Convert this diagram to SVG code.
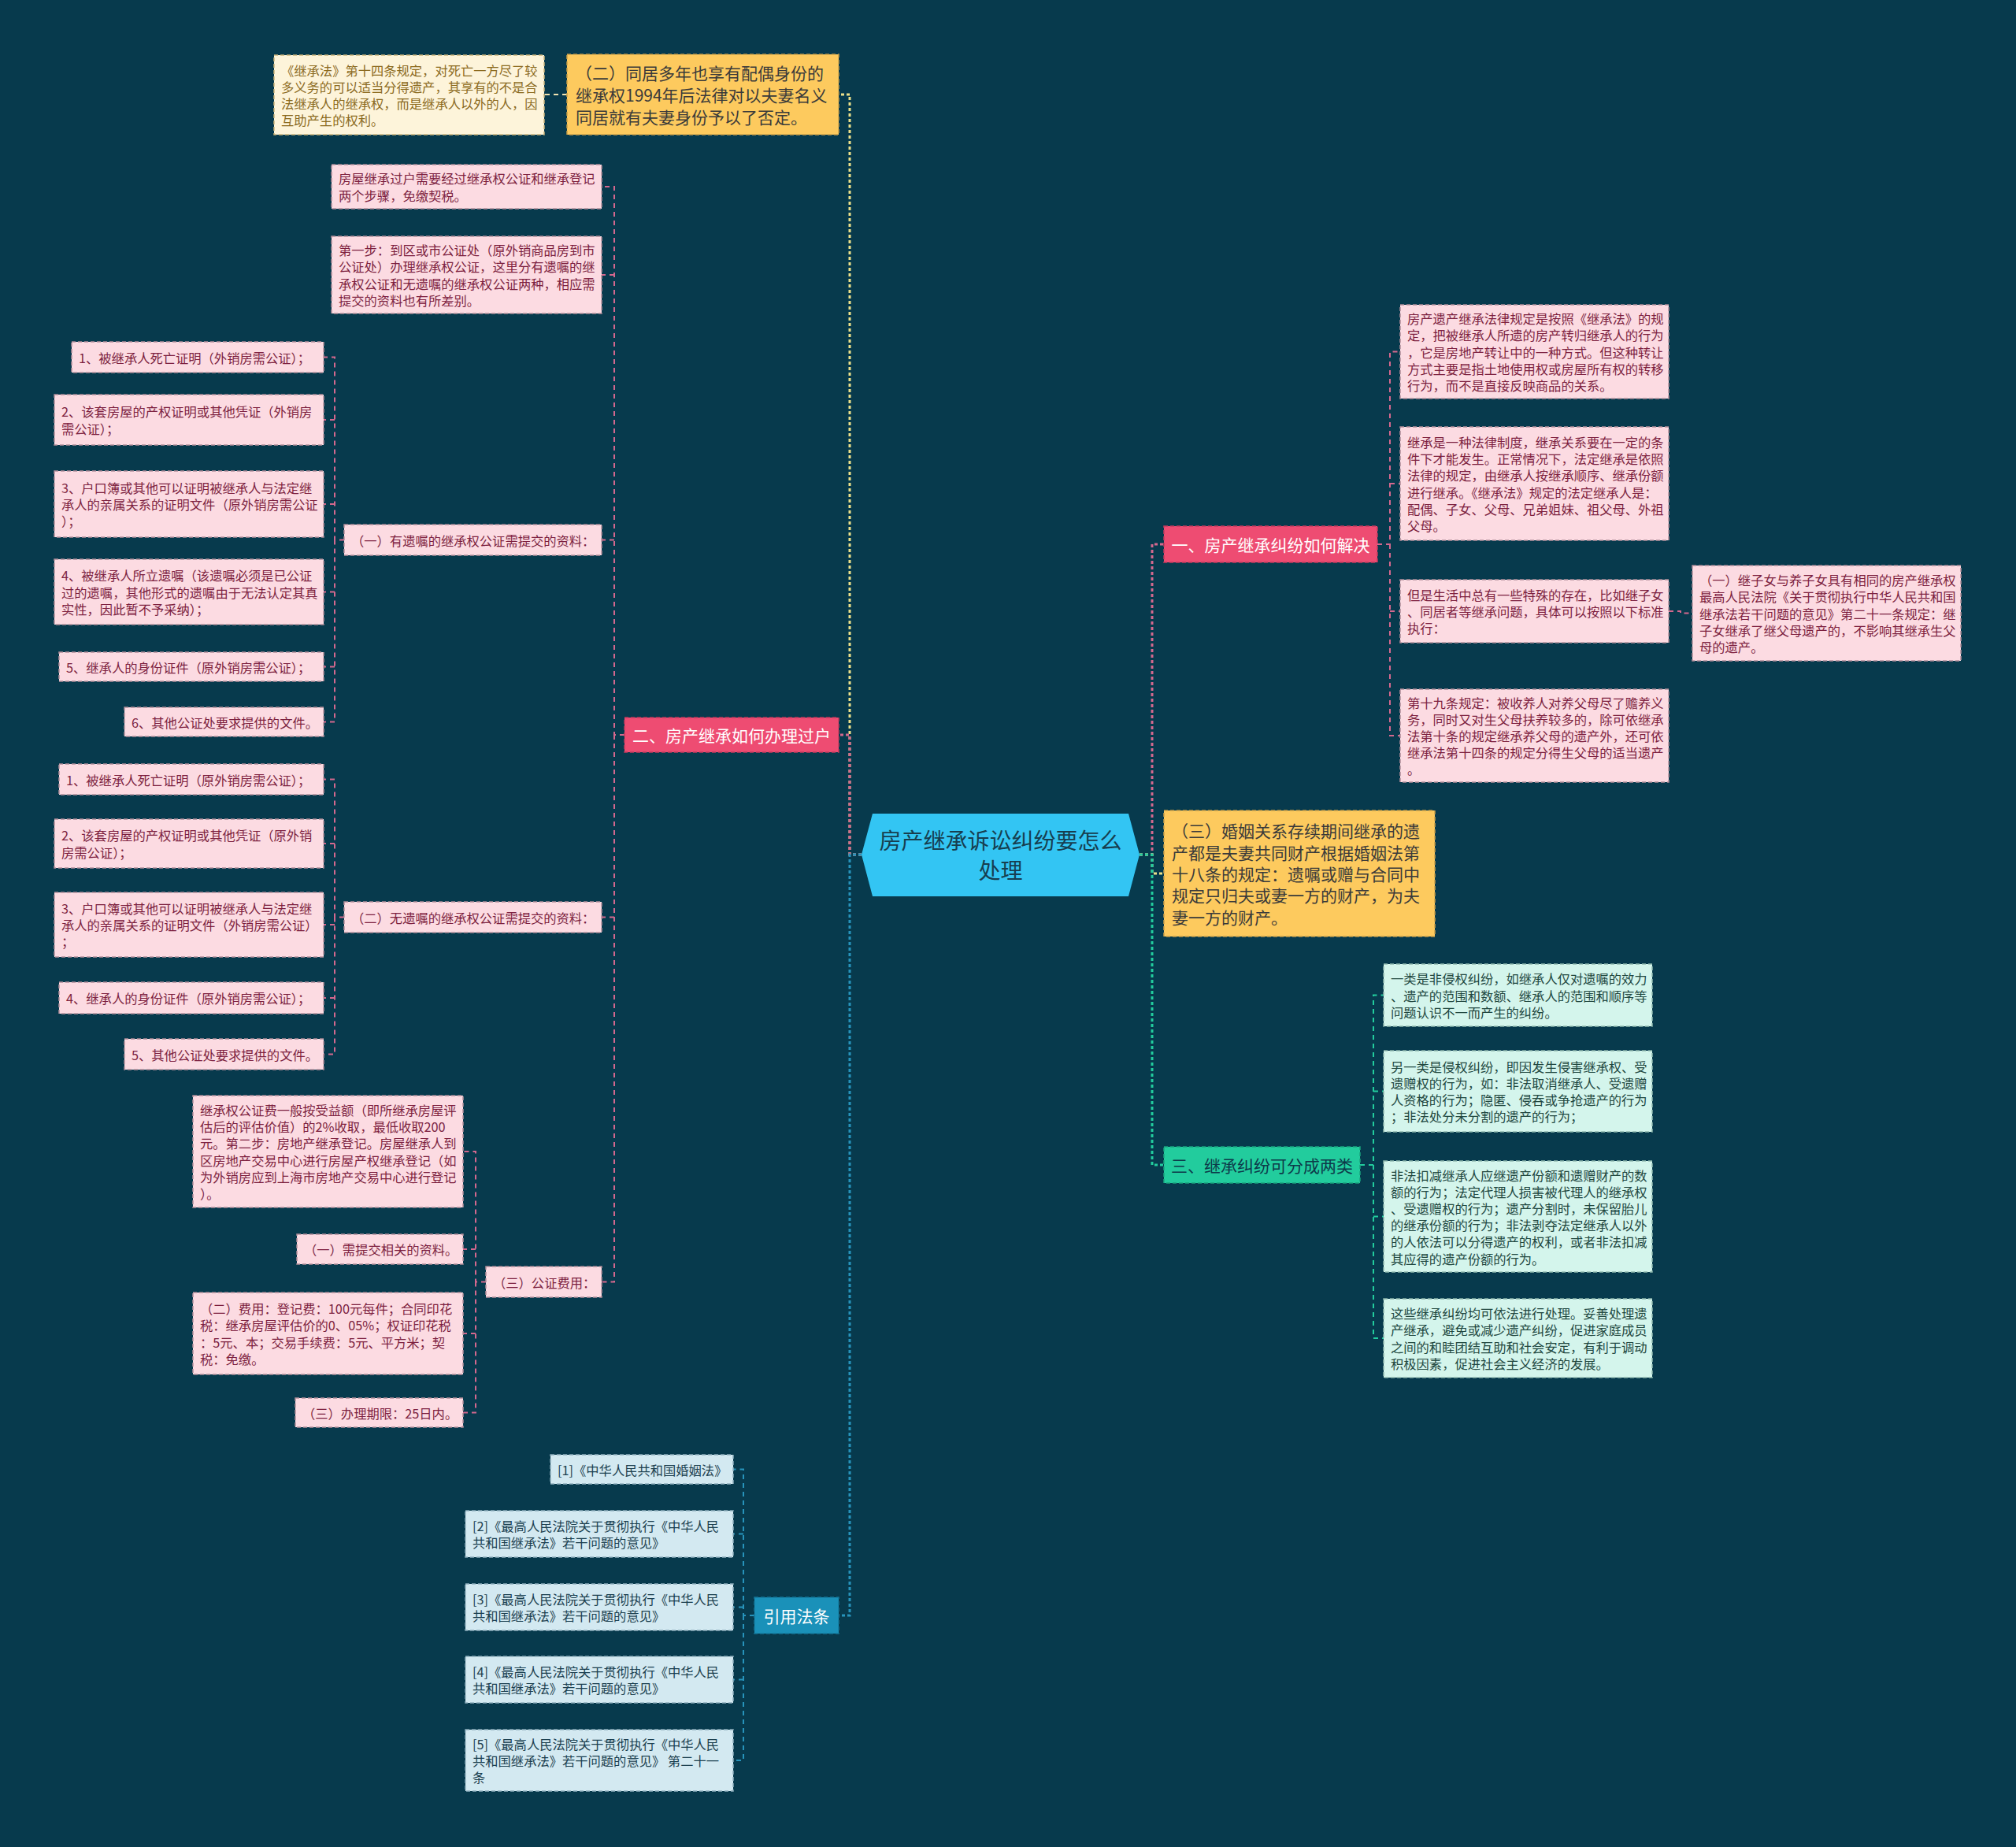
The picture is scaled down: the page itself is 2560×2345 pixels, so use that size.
<svg xmlns="http://www.w3.org/2000/svg" width="2560" height="2345" viewBox="0 0 2560 2345">
<style>
text{font-family:"Noto Sans CJK SC","Liberation Sans",sans-serif;dominant-baseline:central}
.cp{fill:#fcdbe2;stroke:#b18f9b;stroke-width:1.5;stroke-dasharray:5 3}
.tp{fill:#7d1f3f;font-size:16.3px}
.cy{fill:#fdf4da;stroke:#c9b37a;stroke-width:1.5;stroke-dasharray:5 3}
.ty{fill:#8b6a1e;font-size:16.3px}
.cm{fill:#d4f5ec;stroke:#8fb8ad;stroke-width:1.5;stroke-dasharray:5 3}
.tm{fill:#21473f;font-size:16.3px}
.cb{fill:#d3e9f1;stroke:#8eafbd;stroke-width:1.5;stroke-dasharray:5 3}
.tb{fill:#1b3f4f;font-size:16.3px}
.mp{fill:#ee4c72;stroke:#c43a5e;stroke-width:1.5;stroke-dasharray:5 3}
.my{fill:#fdca5e;stroke:#c9a04a;stroke-width:1.5;stroke-dasharray:5 3}
.mg{fill:#22cc9d;stroke:#1aa37d;stroke-width:1.5;stroke-dasharray:5 3}
.mb{fill:#1a91b9;stroke:#14789a;stroke-width:1.5;stroke-dasharray:5 3}
.tw{fill:#ffffff;font-size:21px;text-anchor:middle}
.td{fill:#3a3a3a;font-size:21px}
.lk{fill:none;stroke-width:2;stroke-dasharray:6 5}
.trk{fill:none;stroke-width:3;stroke-dasharray:4 3}
.lp{stroke:#d4688e}.ly{stroke:#ece08a}.lg{stroke:#22cc9d}.lb{stroke:#2793bb}.lc{stroke:#efe2b0}
</style>
<rect width="2560" height="2345" fill="#073a4d"/>
<g id="connectors">
<path class="trk ly" d="M1094,1085 H1079 V120 H1065"/>
<path class="trk lp" d="M1094,1085 H1079 V933 H1065"/>
<path class="trk lb" d="M1094,1085 H1079 V2051 H1065"/>
<path class="lk lc" d="M720,120 H691"/>
<path class="lk lp" d="M793,933 H780 V237 H764 M780,349 H764 M780,685.5 H764 M780,1164.5 H764 M780,933 V1627.5 H764"/>
<path class="lk lp" d="M437,685.5 H425 V453.5 H411 M425,533 H411 M425,640 H411 M425,751.5 H411 M425,846.5 H411 M425,685.5 V916.5 H411"/>
<path class="lk lp" d="M437,1164.5 H425 V989.5 H411 M425,1071 H411 M425,1174 H411 M425,1267 H411 M425,1164.5 V1338.5 H411"/>
<path class="lk lp" d="M617,1627.5 H604 V1462 H588 M604,1586 H588 M604,1693 H588 M604,1627.5 V1793.5 H588"/>
<path class="lk lb" d="M958,2051 H944 V1865.5 H931 M944,1947.5 H931 M944,2040.5 H931 M944,2132.5 H931 M944,2051 V2235 H931"/>
<path class="trk lp" d="M1447,1085 H1463 V691 H1478"/>
<path class="trk ly" d="M1447,1085 H1463 V1109 H1478"/>
<path class="trk lg" d="M1447,1085 H1463 V1479 H1478"/>
<path class="lk lp" d="M1749,691 H1765 V446.5 H1778 M1765,614 H1778 M1765,776 H1778 M1765,691 V934 H1778"/>
<path class="lk lp" d="M2119,776 H2134 V778.5 H2149"/>
<path class="lk lg" d="M1727,1479 H1744 V1263.5 H1757 M1744,1385.5 H1757 M1744,1544.5 H1757 M1744,1479 V1699 H1757"/>
</g>
<g id="center">
<polygon points="1094,1085 1108,1033 1433,1033 1447,1085 1433,1138 1108,1138" fill="#33c5f3"/>
<text fill="#173e4f" font-size="28" text-anchor="middle"><tspan x="1270.5" y="1066">房产继承诉讼纠纷要怎么</tspan><tspan x="1270.5" y="1104">处理</tspan></text>
</g>
<g id="n-y2">
<rect class="my" x="720" y="69" width="345" height="102"/>
<text class="td"><tspan x="731" y="92">（二）同居多年也享有配偶身份的</tspan><tspan x="731" y="120">继承权1994年后法律对以夫妻名义</tspan><tspan x="731" y="148">同居就有夫妻身份予以了否定。</tspan></text>
</g>
<g id="n-y2-c1">
<rect class="cy" x="348" y="70" width="343" height="101"/>
<text class="ty"><tspan x="357" y="88.7">《继承法》第十四条规定，对死亡一方尽了较</tspan><tspan x="357" y="109.9">多义务的可以适当分得遗产，其享有的不是合</tspan><tspan x="357" y="131.1">法继承人的继承权，而是继承人以外的人，因</tspan><tspan x="357" y="152.3">互助产生的权利。</tspan></text>
</g>
<g id="n-p2">
<rect class="mp" x="793" y="911" width="272" height="44"/>
<text class="tw" x="929" y="933">二、房产继承如何办理过户</text>
</g>
<g id="n-p2-a">
<rect class="cp" x="421" y="209" width="343" height="56"/>
<text class="tp"><tspan x="430" y="226.4">房屋继承过户需要经过继承权公证和继承登记</tspan><tspan x="430" y="247.6">两个步骤，免缴契税。</tspan></text>
</g>
<g id="n-p2-b">
<rect class="cp" x="421" y="300" width="343" height="98"/>
<text class="tp"><tspan x="430" y="317.2">第一步：到区或市公证处（原外销商品房到市</tspan><tspan x="430" y="338.4">公证处）办理继承权公证，这里分有遗嘱的继</tspan><tspan x="430" y="359.6">承权公证和无遗嘱的继承权公证两种，相应需</tspan><tspan x="430" y="380.8">提交的资料也有所差别。</tspan></text>
</g>
<g id="n-p2-c">
<rect class="cp" x="437" y="666" width="327" height="39"/>
<text class="tp" x="446" y="685.5">（一）有遗嘱的继承权公证需提交的资料：</text>
</g>
<g id="n-c1"><rect class="cp" x="91" y="434" width="320" height="39"/><text class="tp" x="100" y="453.5">1、被继承人死亡证明（外销房需公证）；</text></g>
<g id="n-c2"><rect class="cp" x="69" y="501" width="342" height="64"/><text class="tp"><tspan x="78" y="522.4">2、该套房屋的产权证明或其他凭证（外销房</tspan><tspan x="78" y="543.6">需公证）；</tspan></text></g>
<g id="n-c3"><rect class="cp" x="69" y="598" width="342" height="84"/><text class="tp"><tspan x="78" y="618.8">3、户口簿或其他可以证明被继承人与法定继</tspan><tspan x="78" y="640">承人的亲属关系的证明文件（原外销房需公证</tspan><tspan x="78" y="661.2">）；</tspan></text></g>
<g id="n-c4"><rect class="cp" x="69" y="710" width="342" height="83"/><text class="tp"><tspan x="78" y="730.3">4、被继承人所立遗嘱（该遗嘱必须是已公证</tspan><tspan x="78" y="751.5">过的遗嘱，其他形式的遗嘱由于无法认定其真</tspan><tspan x="78" y="772.7">实性，因此暂不予采纳）；</tspan></text></g>
<g id="n-c5"><rect class="cp" x="75" y="828" width="336" height="37"/><text class="tp" x="84" y="846.5">5、继承人的身份证件（原外销房需公证）；</text></g>
<g id="n-c6"><rect class="cp" x="158" y="898" width="253" height="37"/><text class="tp" x="167" y="916.5">6、其他公证处要求提供的文件。</text></g>
<g id="n-p2-d">
<rect class="cp" x="437" y="1145" width="327" height="39"/>
<text class="tp" x="446" y="1164.5">（二）无遗嘱的继承权公证需提交的资料：</text>
</g>
<g id="n-d1"><rect class="cp" x="75" y="970" width="336" height="39"/><text class="tp" x="84" y="989.5">1、被继承人死亡证明（原外销房需公证）；</text></g>
<g id="n-d2"><rect class="cp" x="69" y="1040" width="342" height="62"/><text class="tp"><tspan x="78" y="1060.4">2、该套房屋的产权证明或其他凭证（原外销</tspan><tspan x="78" y="1081.6">房需公证）；</tspan></text></g>
<g id="n-d3"><rect class="cp" x="69" y="1133" width="342" height="82"/><text class="tp"><tspan x="78" y="1152.8">3、户口簿或其他可以证明被继承人与法定继</tspan><tspan x="78" y="1174">承人的亲属关系的证明文件（外销房需公证）</tspan><tspan x="78" y="1195.2">；</tspan></text></g>
<g id="n-d4"><rect class="cp" x="75" y="1247" width="336" height="40"/><text class="tp" x="84" y="1267">4、继承人的身份证件（原外销房需公证）；</text></g>
<g id="n-d5"><rect class="cp" x="158" y="1319" width="253" height="39"/><text class="tp" x="167" y="1338.5">5、其他公证处要求提供的文件。</text></g>
<g id="n-p2-e">
<rect class="cp" x="617" y="1608" width="147" height="39"/>
<text class="tp" x="626" y="1627.5">（三）公证费用：</text>
</g>
<g id="n-e1"><rect class="cp" x="245" y="1391" width="343" height="142"/><text class="tp"><tspan x="254" y="1409">继承权公证费一般按受益额（即所继承房屋评</tspan><tspan x="254" y="1430.2">估后的评估价值）的2%收取，最低收取200</tspan><tspan x="254" y="1451.4">元。第二步：房地产继承登记。房屋继承人到</tspan><tspan x="254" y="1472.6">区房地产交易中心进行房屋产权继承登记（如</tspan><tspan x="254" y="1493.8">为外销房应到上海市房地产交易中心进行登记</tspan><tspan x="254" y="1515">）。</tspan></text></g>
<g id="n-e2"><rect class="cp" x="377" y="1567" width="211" height="38"/><text class="tp" x="386" y="1586">（一）需提交相关的资料。</text></g>
<g id="n-e3"><rect class="cp" x="245" y="1641" width="343" height="104"/><text class="tp"><tspan x="254" y="1661.2">（二）费用：登记费：100元每件；合同印花</tspan><tspan x="254" y="1682.4">税：继承房屋评估价的0、05%；权证印花税</tspan><tspan x="254" y="1703.6">：5元、本；交易手续费：5元、平方米；契</tspan><tspan x="254" y="1724.8">税：免缴。</tspan></text></g>
<g id="n-e4"><rect class="cp" x="375" y="1775" width="213" height="37"/><text class="tp" x="384" y="1793.5">（三）办理期限：25日内。</text></g>
<g id="n-ref">
<rect class="mb" x="958" y="2028" width="107" height="46"/>
<text class="tw" x="1011.5" y="2051">引用法条</text>
</g>
<g id="n-r1"><rect class="cb" x="699" y="1847" width="232" height="37"/><text class="tb" x="708" y="1865.5">[1]《中华人民共和国婚姻法》</text></g>
<g id="n-r2"><rect class="cb" x="591" y="1918" width="340" height="59"/><text class="tb"><tspan x="600" y="1936.9">[2]《最高人民法院关于贯彻执行《中华人民</tspan><tspan x="600" y="1958.1">共和国继承法》若干问题的意见》</tspan></text></g>
<g id="n-r3"><rect class="cb" x="591" y="2011" width="340" height="59"/><text class="tb"><tspan x="600" y="2029.9">[3]《最高人民法院关于贯彻执行《中华人民</tspan><tspan x="600" y="2051.1">共和国继承法》若干问题的意见》</tspan></text></g>
<g id="n-r4"><rect class="cb" x="591" y="2103" width="340" height="59"/><text class="tb"><tspan x="600" y="2121.9">[4]《最高人民法院关于贯彻执行《中华人民</tspan><tspan x="600" y="2143.1">共和国继承法》若干问题的意见》</tspan></text></g>
<g id="n-r5"><rect class="cb" x="591" y="2196" width="340" height="78"/><text class="tb"><tspan x="600" y="2213.8">[5]《最高人民法院关于贯彻执行《中华人民</tspan><tspan x="600" y="2235">共和国继承法》若干问题的意见》 第二十一</tspan><tspan x="600" y="2256.2">条</tspan></text></g>
<g id="n-p1">
<rect class="mp" x="1478" y="668" width="271" height="46"/>
<text class="tw" x="1613.5" y="691">一、房产继承纠纷如何解决</text>
</g>
<g id="n-R1"><rect class="cp" x="1778" y="387" width="341" height="119"/><text class="tp"><tspan x="1787" y="404.1">房产遗产继承法律规定是按照《继承法》的规</tspan><tspan x="1787" y="425.3">定，把被继承人所遗的房产转归继承人的行为</tspan><tspan x="1787" y="446.5">，它是房地产转让中的一种方式。但这种转让</tspan><tspan x="1787" y="467.7">方式主要是指土地使用权或房屋所有权的转移</tspan><tspan x="1787" y="488.9">行为，而不是直接反映商品的关系。</tspan></text></g>
<g id="n-R2"><rect class="cp" x="1778" y="542" width="341" height="144"/><text class="tp"><tspan x="1787" y="561">继承是一种法律制度，继承关系要在一定的条</tspan><tspan x="1787" y="582.2">件下才能发生。正常情况下，法定继承是依照</tspan><tspan x="1787" y="603.4">法律的规定，由继承人按继承顺序、继承份额</tspan><tspan x="1787" y="624.6">进行继承。《继承法》规定的法定继承人是：</tspan><tspan x="1787" y="645.8">配偶、子女、父母、兄弟姐妹、祖父母、外祖</tspan><tspan x="1787" y="667">父母。</tspan></text></g>
<g id="n-R3"><rect class="cp" x="1778" y="736" width="341" height="80"/><text class="tp"><tspan x="1787" y="754.8">但是生活中总有一些特殊的存在，比如继子女</tspan><tspan x="1787" y="776">、同居者等继承问题，具体可以按照以下标准</tspan><tspan x="1787" y="797.2">执行：</tspan></text></g>
<g id="n-R3a"><rect class="cp" x="2149" y="718" width="341" height="121"/><text class="tp"><tspan x="2158" y="736.1">（一）继子女与养子女具有相同的房产继承权</tspan><tspan x="2158" y="757.3">最高人民法院《关于贯彻执行中华人民共和国</tspan><tspan x="2158" y="778.5">继承法若干问题的意见》第二十一条规定：继</tspan><tspan x="2158" y="799.7">子女继承了继父母遗产的，不影响其继承生父</tspan><tspan x="2158" y="820.9">母的遗产。</tspan></text></g>
<g id="n-R4"><rect class="cp" x="1778" y="875" width="341" height="118"/><text class="tp"><tspan x="1787" y="891.6">第十九条规定：被收养人对养父母尽了赡养义</tspan><tspan x="1787" y="912.8">务，同时又对生父母扶养较多的，除可依继承</tspan><tspan x="1787" y="934">法第十条的规定继承养父母的遗产外，还可依</tspan><tspan x="1787" y="955.2">继承法第十四条的规定分得生父母的适当遗产</tspan><tspan x="1787" y="976.4">。</tspan></text></g>
<g id="n-y3">
<rect class="my" x="1478" y="1029" width="344" height="160"/>
<text class="td"><tspan x="1488" y="1054.4">（三）婚姻关系存续期间继承的遗</tspan><tspan x="1488" y="1081.7">产都是夫妻共同财产根据婚姻法第</tspan><tspan x="1488" y="1109">十八条的规定：遗嘱或赠与合同中</tspan><tspan x="1488" y="1136.3">规定只归夫或妻一方的财产，为夫</tspan><tspan x="1488" y="1163.6">妻一方的财产。</tspan></text>
</g>
<g id="n-g3">
<rect class="mg" x="1478" y="1456" width="249" height="46"/>
<text fill="#0d3a4a" font-size="21" text-anchor="middle" x="1602.5" y="1479">三、继承纠纷可分成两类</text>
</g>
<g id="n-M1"><rect class="cm" x="1757" y="1224" width="341" height="79"/><text class="tm"><tspan x="1766" y="1242.3">一类是非侵权纠纷，如继承人仅对遗嘱的效力</tspan><tspan x="1766" y="1263.5">、遗产的范围和数额、继承人的范围和顺序等</tspan><tspan x="1766" y="1284.7">问题认识不一而产生的纠纷。</tspan></text></g>
<g id="n-M2"><rect class="cm" x="1757" y="1334" width="341" height="103"/><text class="tm"><tspan x="1766" y="1353.7">另一类是侵权纠纷，即因发生侵害继承权、受</tspan><tspan x="1766" y="1374.9">遗赠权的行为，如：非法取消继承人、受遗赠</tspan><tspan x="1766" y="1396.1">人资格的行为；隐匿、侵吞或争抢遗产的行为</tspan><tspan x="1766" y="1417.3">；非法处分未分割的遗产的行为；</tspan></text></g>
<g id="n-M3"><rect class="cm" x="1757" y="1474" width="341" height="141"/><text class="tm"><tspan x="1766" y="1491.5">非法扣减继承人应继遗产份额和遗赠财产的数</tspan><tspan x="1766" y="1512.7">额的行为；法定代理人损害被代理人的继承权</tspan><tspan x="1766" y="1533.9">、受遗赠权的行为；遗产分割时，未保留胎儿</tspan><tspan x="1766" y="1555.1">的继承份额的行为；非法剥夺法定继承人以外</tspan><tspan x="1766" y="1576.3">的人依法可以分得遗产的权利，或者非法扣减</tspan><tspan x="1766" y="1597.5">其应得的遗产份额的行为。</tspan></text></g>
<g id="n-M4"><rect class="cm" x="1757" y="1649" width="341" height="100"/><text class="tm"><tspan x="1766" y="1667.2">这些继承纠纷均可依法进行处理。妥善处理遗</tspan><tspan x="1766" y="1688.4">产继承，避免或减少遗产纠纷，促进家庭成员</tspan><tspan x="1766" y="1709.6">之间的和睦团结互助和社会安定，有利于调动</tspan><tspan x="1766" y="1730.8">积极因素，促进社会主义经济的发展。</tspan></text></g>
</svg>
